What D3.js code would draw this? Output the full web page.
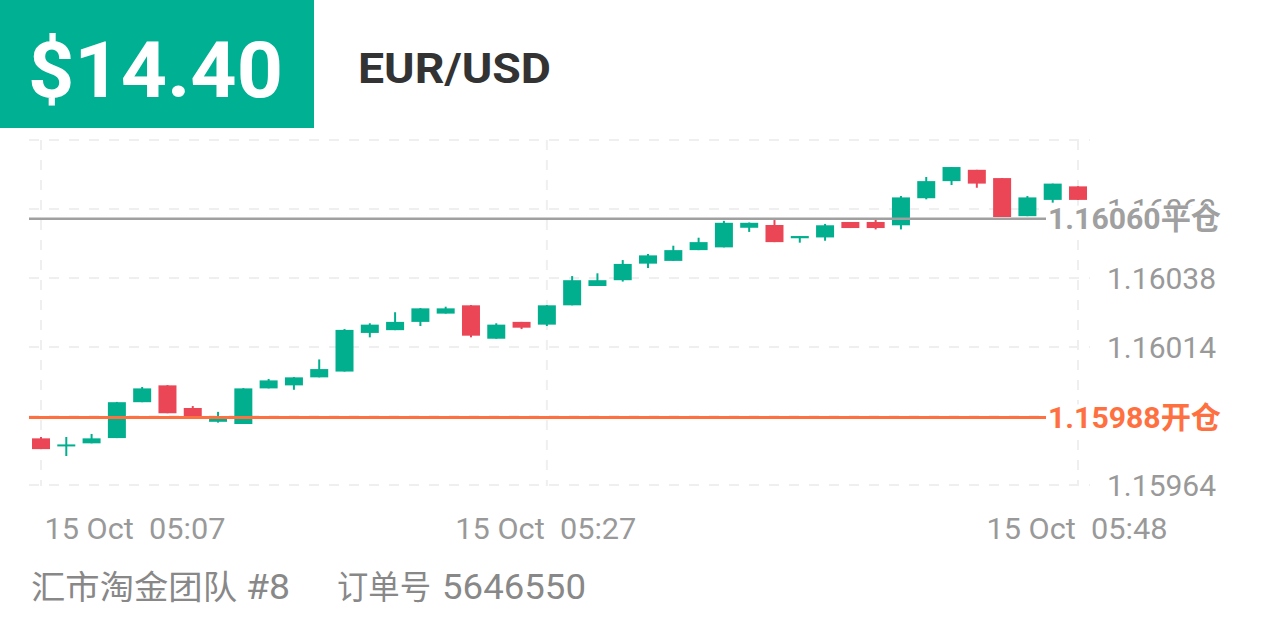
<!DOCTYPE html>
<html><head><meta charset="utf-8">
<script src="https://cdn.jsdelivr.net/npm/d3@7/dist/d3.min.js"></script>
<style>
html,body{margin:0;padding:0;background:#fff;}
svg{display:block;}
text{font-family:Roboto,"Noto Sans CJK SC",sans-serif;}
</style></head>
<body>
<svg id="chart" width="1266" height="633"></svg>
<script>
const categories = ["05:07","05:08","05:09","05:10","05:11","05:12","05:13","05:14","05:15","05:16",
  "05:17","05:18","05:19","05:20","05:21","05:22","05:23","05:24","05:25","05:26",
  "05:27","05:28","05:29","05:30","05:31","05:32","05:33","05:34","05:35","05:36",
  "05:37","05:38","05:39","05:40","05:41","05:42","05:43","05:44","05:45","05:46",
  "05:47","05:48"];
const opens = [1.159804,1.159776,1.159786,1.159805,1.159935,1.159996,1.159914,1.159864,1.159856,1.159985,
  1.159996,1.160025,1.160046,1.160186,1.160196,1.160226,1.160256,1.160286,1.160165,1.160226,
  1.160216,1.160286,1.160356,1.160377,1.160437,1.160447,1.160486,1.160496,1.160567,1.160577,
  1.160529,1.160532,1.160588,1.160588,1.160576,1.160674,1.160736,1.160777,1.160747,1.160609,
  1.160668,1.160717];
const closes = [1.159765,1.159782,1.159804,1.159935,1.159985,1.159895,1.159885,1.159877,1.159985,1.160014,
  1.160025,1.160055,1.160197,1.160216,1.160226,1.160275,1.160275,1.160176,1.160216,1.160205,
  1.160286,1.160377,1.160377,1.160436,1.160467,1.160486,1.160515,1.160585,1.160585,1.160515,
  1.160537,1.160576,1.160566,1.160566,1.160677,1.160736,1.160787,1.160727,1.160606,1.160677,
  1.160727,1.160668];
const highs = [1.159809,1.159809,1.159820,1.159936,1.159990,1.159997,1.159921,1.159900,1.159986,1.160019,
  1.160026,1.160090,1.160200,1.160221,1.160261,1.160276,1.160281,1.160287,1.160221,1.160226,
  1.160287,1.160392,1.160402,1.160450,1.160472,1.160502,1.160531,1.160592,1.160586,1.160595,
  1.160537,1.160581,1.160588,1.160596,1.160682,1.160751,1.160787,1.160777,1.160747,1.160682,
  1.160727,1.160717];
const lows = [1.159765,1.159740,1.159786,1.159805,1.159935,1.159895,1.159885,1.159861,1.159856,1.159985,
  1.159980,1.160025,1.160046,1.160170,1.160196,1.160211,1.160256,1.160170,1.160165,1.160200,
  1.160211,1.160286,1.160356,1.160372,1.160421,1.160447,1.160486,1.160496,1.160552,1.160515,
  1.160513,1.160520,1.160566,1.160561,1.160561,1.160670,1.160722,1.160712,1.160606,1.160609,
  1.160658,1.160668];
const yTickValues = [1.159635,1.159885,1.160135,1.160385,1.160635,1.160885];
const yTickLabels = ["1.15964","1.15989","1.16014","1.16038","1.16062",""];
const xTickCategories = ["05:07","05:27","05:48"];
const xTickLabels = ["15 Oct  05:07","15 Oct  05:27","15 Oct  05:48"];
const openPrice = 1.15988, openText = "1.15988开仓";
const closePrice = 1.16060, closeText = "1.16060平仓";
const profitText = "$14.40", symbolText = "EUR/USD";
const footerTexts = ["汇市淘金团队", "#8", "订单号", "5646550"];

const GREEN = "#01AF8F", RED = "#EB4656", GRID = "#EFEFEF";
const svg = d3.select("#chart");

const x = d3.scalePoint().domain(categories).range([41,1078]);
const y = d3.scaleLinear().domain([yTickValues[0], yTickValues[5]]).range([485,140]);

// grid
svg.append("g").selectAll("line").data(yTickValues).join("line")
  .attr("x1",29).attr("x2",1090).attr("y1",d=>y(d)).attr("y2",d=>y(d))
  .attr("stroke",GRID).attr("stroke-width",2).attr("stroke-dasharray","10,10");
svg.append("g").selectAll("line").data(xTickCategories).join("line")
  .attr("x1",d=>x(d)).attr("x2",d=>x(d)).attr("y1",140).attr("y2",486)
  .attr("stroke",GRID).attr("stroke-width",2).attr("stroke-dasharray","10,10");

// header
svg.append("rect").attr("x",0).attr("y",0).attr("width",314).attr("height",128).attr("fill","#00B092");
svg.append("text").attr("x",28).attr("y",97).attr("fill","#fff").attr("font-size",78)
  .attr("font-weight",700).attr("textLength",255).attr("lengthAdjust","spacingAndGlyphs").text(profitText);
svg.append("text").attr("x",358).attr("y",83).attr("fill","#333").attr("font-size",43)
  .attr("font-weight",700).attr("textLength",193).attr("lengthAdjust","spacingAndGlyphs").text(symbolText);

// y axis labels
const yAxis = svg.append("g").attr("transform","translate(1107,0)")
  .call(d3.axisRight(y).tickValues(yTickValues.slice(0,5)).tickSize(0).tickPadding(0)
    .tickFormat((d,i)=>yTickLabels[i]));
yAxis.select(".domain").remove();
yAxis.selectAll("text").attr("font-size",30).attr("fill","#999").attr("font-family",null).attr("dy","0.36em");

// x axis labels
const xAxis = svg.append("g").attr("transform","translate(0,539)")
  .call(d3.axisBottom(x).tickValues(xTickCategories).tickSize(0).tickPadding(0)
    .tickFormat((d,i)=>xTickLabels[i]));
xAxis.select(".domain").remove();
xAxis.selectAll("text").attr("font-size",30).attr("fill","#999").attr("font-family",null)
  .attr("y",0).attr("dy",0).style("white-space","pre")
  .attr("textLength",181).attr("lengthAdjust","spacingAndGlyphs")
  .attr("text-anchor",(d,i)=>i===0?"start":"middle").attr("x",(d,i)=>i===0?3:-1.5);

// candles
const idx = d3.range(categories.length);
const cg = svg.append("g");
cg.selectAll("line").data(idx).join("line")
  .attr("x1",i=>x(categories[i])).attr("x2",i=>x(categories[i]))
  .attr("y1",i=>y(highs[i])).attr("y2",i=>y(lows[i]))
  .attr("stroke",i=>closes[i]>=opens[i]?GREEN:RED).attr("stroke-width",2);
cg.selectAll("rect").data(idx).join("rect")
  .attr("x",i=>x(categories[i])-9).attr("width",18)
  .attr("y",i=>y(Math.max(opens[i],closes[i])))
  .attr("height",i=>Math.max(2,Math.abs(y(opens[i])-y(closes[i]))))
  .attr("fill",i=>closes[i]>=opens[i]?GREEN:RED);

// price lines
const lines = [{v:closePrice,t:closeText,c:"#A0A0A0",w:2.5},{v:openPrice,t:openText,c:"#FF7040",w:3}];
lines.forEach(l=>{
  svg.append("line").attr("x1",29).attr("x2",1046).attr("y1",y(l.v)).attr("y2",y(l.v))
    .attr("stroke",l.c).attr("stroke-width",l.w);
  svg.append("rect").attr("x",1047).attr("y",y(l.v)-13).attr("width",180).attr("height",27).attr("fill","#fff");
  svg.append("text").attr("x",1048).attr("y",y(l.v)).attr("dy","0.36em").attr("font-size",30)
    .attr("font-weight",700).attr("fill",l.c)
    .attr("textLength",173).attr("lengthAdjust","spacingAndGlyphs").text(l.t);
});

// footer
const footerX = [31, 246, 337, 442];
const footerLen = [206, 44, 94, 144];
footerTexts.forEach((t,i)=>{
  svg.append("text").attr("x",footerX[i]).attr("y",599).attr("font-size",i%2===0?33:35)
    .attr("fill","#888").attr("textLength",footerLen[i]).attr("lengthAdjust","spacingAndGlyphs").text(t);
});
</script>
</body></html>
